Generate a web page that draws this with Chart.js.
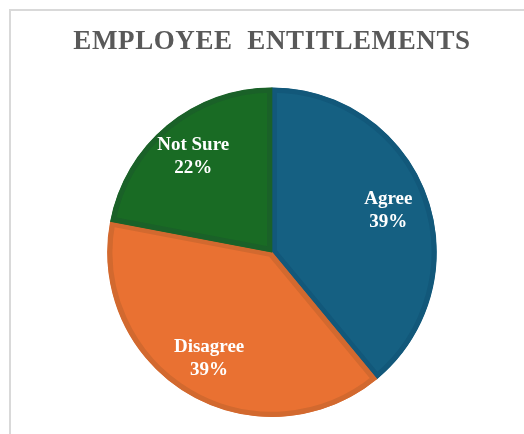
<!DOCTYPE html>
<html>
<head>
<meta charset="utf-8">
<script src="https://cdn.jsdelivr.net/npm/chart.js@4/dist/chart.umd.min.js"></script>
<style>
  html, body { margin: 0; padding: 0; background: #ffffff; overflow: hidden; width: 524px; height: 434px; }
  .frame { position: absolute; left: 9px; top: 9px; width: 700px; height: 600px; border: 2px solid #d9d9d9; box-sizing: border-box; }
  canvas { position: absolute; left: 0; top: 0; }
</style>
</head>
<body>
<div class="frame"></div>
<canvas id="c" width="524" height="434"></canvas>
<script>
const titleText = 'EMPLOYEE  ENTITLEMENTS';
const categories = ['Agree', 'Disagree', 'Not Sure'];
const values = [39, 39, 22];
const fillColors = ['#156082', '#E97132', '#196B24'];
const borderColors = ['#12587A', '#D2692F', '#1A6128'];

const spacingPlugin = {
  id: 'titleSpacing',
  beforeDraw(chart) { chart.ctx.letterSpacing = '0.6px'; },
  beforeDatasetsDraw(chart) { chart.ctx.letterSpacing = '0px'; }
};

const labelPlugin = {
  id: 'sliceLabels',
  afterDatasetsDraw(chart) {
    const ctx = chart.ctx;
    const meta = chart.getDatasetMeta(0);
    const total = values.reduce((a, b) => a + b, 0);
    ctx.save();
    ctx.letterSpacing = '0px';
    ctx.fillStyle = '#ffffff';
    ctx.font = 'bold 19px "Liberation Serif", "Times New Roman", serif';
    ctx.textAlign = 'center';
    ctx.textBaseline = 'middle';
    meta.data.forEach((arc, i) => {
      const p = arc.getProps(['x', 'y', 'startAngle', 'endAngle', 'outerRadius'], true);
      const mid = (p.startAngle + p.endAngle) / 2;
      const r = p.outerRadius * 0.75;
      const cx = p.x + Math.cos(mid) * r;
      const cy = p.y + Math.sin(mid) * r;
      const pct = Math.round(values[i] / total * 100) + '%';
      ctx.fillText(categories[i], cx, cy - 11.5);
      ctx.fillText(pct, cx, cy + 11.5);
    });
    ctx.restore();
  }
};

new Chart(document.getElementById('c'), {
  type: 'pie',
  data: {
    labels: categories,
    datasets: [{
      data: values,
      backgroundColor: fillColors,
      borderColor: borderColors,
      borderWidth: 5,
      borderAlign: 'inner',
      hoverOffset: 0
    }]
  },
  options: {
    responsive: false,
    animation: false,
    devicePixelRatio: 1,
    layout: { padding: { top: 10, bottom: 17, left: 30, right: 10 } },
    plugins: {
      legend: { display: false },
      tooltip: { enabled: false },
      title: {
        display: true,
        text: titleText,
        color: '#595959',
        font: { family: '"Liberation Serif", "Times New Roman", serif', size: 27, weight: 'bold', lineHeight: 1.2 },
        padding: { top: 16, bottom: 29 }
      }
    }
  },
  plugins: [spacingPlugin, labelPlugin]
});
</script>
</body>
</html>
